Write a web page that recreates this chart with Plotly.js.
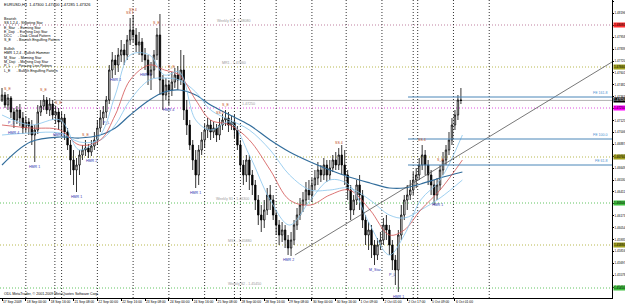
<!DOCTYPE html>
<html><head><meta charset="utf-8">
<script src="https://cdn.plot.ly/plotly-3.0.1.min.js"></script>
<style>html,body{margin:0;padding:0;background:#fff}#c{width:625px;height:308px}</style>
</head><body><div id="c"></div>
<script>
// ---- data (EURUSD H1, drawn as 2-hour bars; x = hours since first bar) ----
const opens  = [1.4733,1.4738,1.4728,1.4735,1.4721,1.4713,1.4723,1.4715,1.4705,1.4711,1.4707,1.4698,1.4703,1.4721,1.4727,1.4733,1.4723,1.4729,1.4718,1.4721,1.4711,1.4715,1.4701,1.4688,1.4673,1.4663,1.4668,1.4678,1.4683,1.4685,1.4681,1.4687,1.4693,1.4705,1.4715,1.4721,1.4733,1.4763,1.4773,1.4768,1.4778,1.4783,1.4778,1.4793,1.4803,1.4798,1.4788,1.4791,1.4778,1.4773,1.4758,1.4763,1.4778,1.4798,1.4753,1.4738,1.4748,1.4743,1.4751,1.4758,1.4753,1.4763,1.4723,1.4708,1.4688,1.4673,1.4658,1.4683,1.4693,1.4703,1.4708,1.4701,1.4705,1.4698,1.4708,1.4713,1.4715,1.4708,1.4711,1.4703,1.4688,1.4668,1.4658,1.4673,1.4658,1.4648,1.4633,1.4618,1.4613,1.4623,1.4638,1.4633,1.4618,1.4608,1.4598,1.4603,1.4593,1.4585,1.4593,1.4608,1.4618,1.4628,1.4633,1.4643,1.4638,1.4648,1.4655,1.4663,1.4658,1.4668,1.4658,1.4665,1.4673,1.4668,1.4678,1.4668,1.4658,1.4643,1.4623,1.4633,1.4648,1.4638,1.4613,1.4598,1.4603,1.4588,1.4578,1.4588,1.4593,1.4608,1.4603,1.4588,1.4573,1.4563,1.4598,1.4618,1.4633,1.4638,1.4643,1.4653,1.4658,1.4668,1.4678,1.4668,1.4658,1.4648,1.4638,1.4648,1.4663,1.4673,1.4683,1.4693,1.4708,1.4718,1.4733];
const highs  = [1.4745,1.4741,1.4739,1.4737,1.4725,1.4727,1.4729,1.4721,1.4717,1.4715,1.4713,1.4708,1.4728,1.4733,1.4738,1.4736,1.4735,1.4733,1.4727,1.4725,1.4721,1.4719,1.4705,1.4693,1.4683,1.4675,1.4683,1.4688,1.4693,1.4689,1.4693,1.4701,1.4713,1.4723,1.4727,1.4737,1.4768,1.4781,1.4778,1.4785,1.4793,1.4789,1.4798,1.4815,1.4818,1.4805,1.4801,1.4795,1.4785,1.4778,1.4771,1.4783,1.4805,1.4819,1.4758,1.4755,1.4753,1.4761,1.4765,1.4767,1.4783,1.4778,1.4733,1.4713,1.4693,1.4683,1.4688,1.4701,1.4709,1.4715,1.4713,1.4711,1.4709,1.4715,1.4719,1.4723,1.4721,1.4717,1.4718,1.4707,1.4693,1.4673,1.4678,1.4678,1.4663,1.4653,1.4638,1.4628,1.4633,1.4645,1.4648,1.4638,1.4623,1.4613,1.4611,1.4608,1.4598,1.4601,1.4613,1.4625,1.4635,1.4641,1.4651,1.4653,1.4655,1.4663,1.4671,1.4668,1.4675,1.4673,1.4673,1.4678,1.4681,1.4685,1.4688,1.4683,1.4663,1.4648,1.4638,1.4653,1.4658,1.4643,1.4618,1.4611,1.4608,1.4593,1.4595,1.4601,1.4615,1.4618,1.4608,1.4593,1.4578,1.4603,1.4628,1.4638,1.4648,1.4653,1.4661,1.4665,1.4675,1.4688,1.4683,1.4673,1.4663,1.4653,1.4655,1.4668,1.4681,1.4688,1.4701,1.4715,1.4723,1.4738,1.4745];
const lows   = [1.4731,1.4725,1.4723,1.4715,1.4705,1.4709,1.4707,1.4699,1.4701,1.4698,1.4688,1.4671,1.4699,1.4717,1.4723,1.4719,1.4717,1.4713,1.4709,1.4703,1.4698,1.4693,1.4683,1.4658,1.4648,1.4641,1.4658,1.4673,1.4677,1.4675,1.4677,1.4683,1.4688,1.4701,1.4708,1.4715,1.4729,1.4755,1.4758,1.4761,1.4771,1.4768,1.4773,1.4788,1.4791,1.4781,1.4778,1.4771,1.4763,1.4748,1.4743,1.4755,1.4773,1.4738,1.4723,1.4733,1.4728,1.4737,1.4745,1.4743,1.4748,1.4713,1.4698,1.4683,1.4663,1.4645,1.4648,1.4678,1.4685,1.4695,1.4693,1.4695,1.4691,1.4693,1.4703,1.4707,1.4701,1.4703,1.4695,1.4683,1.4661,1.4648,1.4651,1.4643,1.4638,1.4623,1.4608,1.4601,1.4605,1.4618,1.4623,1.4613,1.4598,1.4588,1.4591,1.4585,1.4578,1.4577,1.4588,1.4603,1.4613,1.4621,1.4628,1.4633,1.4631,1.4643,1.4648,1.4651,1.4653,1.4651,1.4653,1.4661,1.4663,1.4663,1.4658,1.4648,1.4633,1.4613,1.4618,1.4628,1.4623,1.4605,1.4588,1.4583,1.4575,1.4568,1.4573,1.4583,1.4588,1.4593,1.4578,1.4563,1.4548,1.4541,1.4593,1.4613,1.4623,1.4633,1.4638,1.4645,1.4653,1.4663,1.4658,1.4648,1.4638,1.4628,1.4633,1.4643,1.4658,1.4668,1.4678,1.4688,1.4703,1.4713,1.4729];
const closes = [1.4738,1.4728,1.4735,1.4721,1.4713,1.4723,1.4715,1.4705,1.4711,1.4707,1.4698,1.4703,1.4721,1.4727,1.4733,1.4723,1.4729,1.4718,1.4721,1.4711,1.4715,1.4701,1.4688,1.4673,1.4663,1.4668,1.4678,1.4683,1.4685,1.4681,1.4687,1.4693,1.4705,1.4715,1.4721,1.4733,1.4763,1.4773,1.4768,1.4778,1.4783,1.4778,1.4793,1.4803,1.4798,1.4788,1.4791,1.4778,1.4773,1.4758,1.4763,1.4778,1.4798,1.4753,1.4738,1.4748,1.4743,1.4751,1.4758,1.4753,1.4763,1.4723,1.4708,1.4688,1.4673,1.4658,1.4683,1.4693,1.4703,1.4708,1.4701,1.4705,1.4698,1.4708,1.4713,1.4715,1.4708,1.4711,1.4703,1.4688,1.4668,1.4658,1.4673,1.4658,1.4648,1.4633,1.4618,1.4613,1.4623,1.4638,1.4633,1.4618,1.4608,1.4598,1.4603,1.4593,1.4585,1.4593,1.4608,1.4618,1.4628,1.4633,1.4643,1.4638,1.4648,1.4655,1.4663,1.4658,1.4668,1.4658,1.4665,1.4673,1.4668,1.4678,1.4668,1.4658,1.4643,1.4623,1.4633,1.4648,1.4638,1.4613,1.4598,1.4603,1.4588,1.4578,1.4588,1.4593,1.4608,1.4603,1.4588,1.4573,1.4563,1.4598,1.4618,1.4633,1.4638,1.4643,1.4653,1.4658,1.4668,1.4678,1.4668,1.4658,1.4648,1.4638,1.4648,1.4663,1.4673,1.4683,1.4693,1.4708,1.4718,1.4733,1.47326];

// moving averages (sampled at these hours)
const maHours   = [0,19,39,52,66,76,86,99,109,119,130,140,153,166,180,193,207,220,233,247,260,270,281,294,309];
const maSlow    = [1.4668,1.4691,1.4696,1.4695,1.4698,1.4705,1.4718,1.4733,1.4741,1.4743,1.4738,1.4728,1.4718,1.4708,1.4693,1.4681,1.4671,1.4663,1.4656,1.4650,1.4645,1.4645,1.4649,1.4655,1.4661];
const maRed     = [1.4708,1.4705,1.4703,1.4688,1.4693,1.4718,1.4753,1.4768,1.4763,1.4758,1.4733,1.4713,1.4708,1.4693,1.4663,1.4633,1.4628,1.4638,1.4643,1.4623,1.4598,1.4603,1.4623,1.4643,1.4673];
const maFast    = [1.4718,1.4708,1.4713,1.4683,1.4698,1.4738,1.4778,1.4778,1.4758,1.4761,1.4713,1.4703,1.4711,1.4678,1.4633,1.4608,1.4633,1.4653,1.4648,1.4608,1.4578,1.4598,1.4633,1.4653,1.4698];
const maMid     = [1.4698,1.4700,1.4700,1.4691,1.4693,1.4708,1.4733,1.4753,1.4755,1.4753,1.4741,1.4723,1.4713,1.4703,1.4683,1.4658,1.4643,1.4643,1.4645,1.4633,1.4618,1.4615,1.4623,1.4635,1.4653];

// horizontal levels
const levelPrices = [1.4808,1.4766,1.4725,1.4676,1.4630,1.4588,1.4545];
const levelColors = ['#c080a0','#b8b850','#e050e0','#b8b850','#60c460','#b8b850','#60c460'];
const levelBoxes  = ['#ff3030','#a0a020','#ff00ff','#a0a020','#40c040','#a0a020','#40c040'];
const levelNames  = ['Weekly R1 - 1.48080','MR1 - 1.47660','1.47250','','Weekly S1 - 1.46300','MS1 - 1.45880','Weekly S2 - 1.45450'];
const currentPrice = 1.47326;
const feStartHour = 272.5;
const fePrices = [1.4736,1.4694,1.4668];
const feNames  = ['FE 161.8','FE 100.0','FE 61.8'];
const trendHours  = [196.6,409.4];
const trendPrices = [1.4578,1.4771];

// x-axis labels
const labelHours = [0,16,32,48,64,80,96,112,128,144,160,176,192,208,224,240,256,272,288,304];
const labelTexts = ['17 Sep 2009','18 Sep 00:00','18 Sep 16:00','21 Sep 08:00','22 Sep 00:00','22 Sep 16:00','23 Sep 08:00','24 Sep 00:00','24 Sep 16:00','25 Sep 08:00','28 Sep 00:00','28 Sep 16:00','29 Sep 08:00','30 Sep 00:00','30 Sep 16:00','1 Oct 09:00','2 Oct 01:00','2 Oct 17:00','5 Oct 09:00','6 Oct 01:00'];
const dayLineHours  = [16,40,64,88,112,136,160,184,208,231,255,279,303,327];
const weekLineHours = [35.5,156,276];

// candlestick pattern labels
const bearBars  = [2,14,19,28,43,44,52,57,73,75,113,141,147];
const bearTexts = ['S_E','S_E','S_E','S_E','SS 1','SS 4','S_E','S_E','SS 4','S_E','SS 4','SS 4','S_E'];
const bullBars  = [3,4,11,19,25,30,35,38,48,56,65,96,125,131,133,146];
const bullTexts = ['P_L','HMR 4','HMR 1','HMR 1','HMR 1','HMR 2','P_L','HMR 1','HMR 4','HMR 4','HMR 1','HMR 2','M_Star','P_L','HMR 1','HMR 1'];

const legendLines = ['Bearish','SS 1,2,4 - Shooting Star','E_Star   - Evening Star','E_Doji   - Evening Doji Star','DCC      - Dark Cloud Pattern','S_E      - Bearish Engulfing Pattern','','Bullish','HMR 1,2,4 - Bullish Hammer','M_Star   - Morning Star','M_Doji   - Morning Doji Star','P_L      - Piercing Line Pattern','L_E      - Bullish Engulfing Pattern'];

// ---- build ----
const F = 'Liberation Sans';
const barHours = closes.map((_, i) => 2 * i);
const traces = [];
const maLine = (y, color, w) => ({type:'scatter', mode:'lines', x:maHours, y:y, line:{color:color, width:w, shape:'spline'}, hoverinfo:'skip'});
traces.push(maLine(maSlow, '#336e9c', 1.2));
traces.push(maLine(maMid, '#86c4ec', 0.8));
traces.push(maLine(maRed, '#d25050', 0.8));
traces.push(maLine(maFast, '#86c4ec', 0.8));
traces.push({type:'scatter', mode:'lines', x:trendHours, y:trendPrices, line:{color:'#555', width:0.8}, hoverinfo:'skip'});
fePrices.forEach(p => traces.push({type:'scatter', mode:'lines', x:[feStartHour, 409.4], y:[p, p], line:{color:'#4a86b8', width:1}, hoverinfo:'skip'}));
traces.push({type:'candlestick', x:barHours, open:opens, high:highs, low:lows, close:closes,
  increasing:{line:{color:'#000', width:0.8}, fillcolor:'#fff'},
  decreasing:{line:{color:'#000', width:0.8}, fillcolor:'#000'},
  whiskerwidth:0, hoverinfo:'skip'});

const shapes = [];
levelPrices.forEach((p, i) => shapes.push({type:'line', xref:'paper', x0:0, x1:1, yref:'y', y0:p, y1:p, line:{color:levelColors[i], width:1, dash:'1px,2px'}, layer:'below'}));
shapes.push({type:'line', xref:'paper', x0:0, x1:1, yref:'y', y0:currentPrice, y1:currentPrice, line:{color:'#b0b0b0', width:1}, layer:'below'});
dayLineHours.concat(weekLineHours).forEach(h => shapes.push({type:'line', xref:'x', x0:h, x1:h, yref:'paper', y0:0, y1:1, line:{color:'#333', width:1, dash:'1px,2px'}, layer:'below'}));

const ann = [];
const tf = (s, c) => ({family:F, size:s, color:c});
ann.push({xref:'paper', yref:'paper', x:0.003, y:1, yanchor:'top', xanchor:'left', showarrow:false, text:'EURUSD,H1  1.47300 1.47400 1.47285 1.47326', font:tf(4,'#000')});
legendLines.forEach((t, i) => { if (t) ann.push({xref:'paper', yref:'paper', x:0.003, y:1 - (15 + i*4.3)/298, yanchor:'top', xanchor:'left', showarrow:false, text:t, font:tf(3.6,'#000')}); });
ann.push({xref:'paper', yref:'paper', x:0.003, y:0, yanchor:'bottom', xanchor:'left', showarrow:false, text:'ODL MetaTrader, © 2001-2009 MetaQuotes Software Corp.', font:tf(3.6,'#000')});
levelPrices.forEach((p, i) => {
  ann.push({xref:'paper', x:1.001, xanchor:'left', yref:'y', y:p, showarrow:false, text:p.toFixed(5), font:tf(3,'#000'), bgcolor:levelBoxes[i], borderpad:0});
  if (levelNames[i]) ann.push({xref:'x', x:[143,146,160,0,142,150,150][i], xanchor:'left', yref:'y', y:p, yanchor:'bottom', showarrow:false, text:levelNames[i], font:tf(3.6,'#999')});
});
ann.push({xref:'paper', x:1.001, xanchor:'left', yref:'y', y:currentPrice, showarrow:false, text:currentPrice.toFixed(5), font:tf(3,'#fff'), bgcolor:'#000', borderpad:0});
fePrices.forEach((p, i) => ann.push({xref:'paper', x:0.997, xanchor:'right', yref:'y', y:p, yanchor:'bottom', showarrow:false, text:feNames[i], font:tf(3.6,'#4a90d0')}));
bearBars.forEach((b, i) => ann.push({xref:'x', x:2*b, yref:'y', y:highs[b], yanchor:'bottom', yshift:1, showarrow:false, text:bearTexts[i], font:tf(3.6,'#c04a20')}));
bullBars.forEach((b, i) => ann.push({xref:'x', x:2*b, yref:'y', y:lows[b], yanchor:'top', yshift:-1, showarrow:false, text:bullTexts[i], font:tf(3.6,'#3030b0')}));

const layout = {
  width:625, height:308, margin:{l:0, r:13, t:0, b:10},
  paper_bgcolor:'#fff', plot_bgcolor:'#fff', showlegend:false,
  xaxis:{range:[-1.34, 409.4], rangeslider:{visible:false}, showgrid:false, zeroline:false,
    tickmode:'array', tickvals:labelHours, ticktext:labelTexts, ticklabelposition:'outside right', tickangle:0,
    ticks:'outside', ticklen:2, tickcolor:'#000', tickfont:tf(3.3,'#000'),
    showline:true, linecolor:'#000', linewidth:1, mirror:true},
  yaxis:{range:[1.4535, 1.4833], side:'right', showgrid:false, zeroline:false,
    tickmode:'linear', tick0:1.48315, dtick:0.00119, tickformat:'.5f',
    ticks:'outside', ticklen:1, tickcolor:'#000', tickfont:tf(3,'#000'),
    showline:true, linecolor:'#000', linewidth:1, mirror:true},
  shapes:shapes, annotations:ann
};
Plotly.newPlot('c', traces, layout, {staticPlot:true, displayModeBar:false});
</script></body></html>
